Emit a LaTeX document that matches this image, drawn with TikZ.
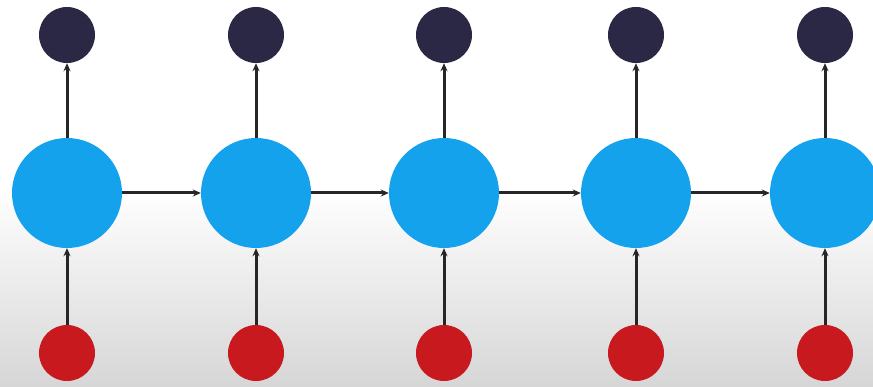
\documentclass[tikz,border=0pt]{standalone}
\usetikzlibrary{arrows.meta}
\definecolor{hid}{HTML}{14A2EC}
\definecolor{outc}{HTML}{2A2844}
\definecolor{inc}{HTML}{C81A1E}
\definecolor{bgbot}{HTML}{D6D6D6}
\begin{document}
\begin{tikzpicture}[x=1pt,y=-1pt,
  hidden/.style={circle,fill=hid,inner sep=0pt,minimum size=110pt},
  outnode/.style={circle,fill=outc,inner sep=0pt,minimum size=56pt},
  innode/.style={circle,fill=inc,inner sep=0pt,minimum size=56pt},
  conn/.style={draw=black!85,line width=3pt,-{Stealth[length=8pt,width=7pt]}}]
\fill[white] (0,0) rectangle (873,190);
\shade[top color=white,bottom color=bgbot] (0,189) rectangle (873,387);
\useasboundingbox (0,0) rectangle (873,387);
\foreach \i/\x in {1/67,2/256,3/444,4/636,5/825}{
  \node[hidden] (h\i) at (\x,193) {};
  \node[outnode] (o\i) at (\x,35) {};
  \node[innode] (r\i) at (\x,353) {};
  \draw[conn] (h\i) -- (o\i);
  \draw[conn] (r\i) -- (h\i);
}
\foreach \i/\j in {1/2,2/3,3/4,4/5}{
  \draw[conn] (h\i) -- (h\j);
}
\end{tikzpicture}
\end{document}
